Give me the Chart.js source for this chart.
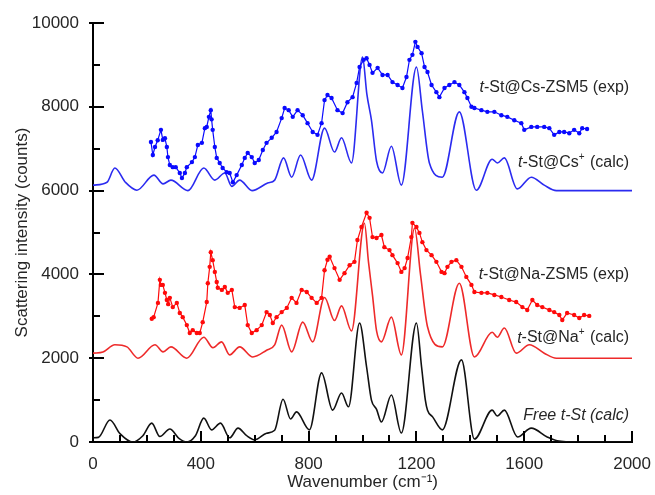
<!DOCTYPE html>
<html>
<head>
<meta charset="utf-8">
<script src="https://cdn.jsdelivr.net/npm/chart.js@4.4.1/dist/chart.umd.min.js"></script>
<style>
  html, body { margin: 0; padding: 0; background: #fff; }
  #wrap { width: 655px; height: 495px; }
</style>
</head>
<body>
<div id="wrap"><canvas id="chart" width="655" height="495"></canvas></div>
<script>
// Wavenumber (cm-1) / intensity (counts) readings per spectrum

// t-St@Cs-ZSM5 (exp)
const csExpX = [215, 222, 230, 240, 252, 259, 267, 274, 278, 285, 296, 307, 322, 330, 341, 348, 367, 378, 389, 404,
  415, 422, 430, 437, 440, 444, 452, 459, 470, 481, 496, 507, 519, 533, 552, 563, 574, 589, 600, 615,
  630, 644, 663, 681, 700, 711, 726, 741, 759, 778, 796, 815, 833, 848, 859, 870, 885, 907, 926, 944,
  963, 978, 989, 1004, 1015, 1026, 1037, 1056, 1074, 1093, 1111, 1130, 1148, 1163, 1174, 1185, 1196, 1204, 1219, 1230,
  1241, 1256, 1274, 1285, 1304, 1322, 1341, 1359, 1378, 1389, 1404, 1415, 1441, 1463, 1489, 1515, 1537, 1563, 1589, 1600,
  1626, 1648, 1674, 1693, 1711, 1730, 1748, 1767, 1785, 1804, 1815, 1833];
const csExpY = [7160, 6850, 7040, 7200, 7450, 7210, 7250, 7040, 6800, 6610, 6560, 6560, 6420, 6300, 6420, 6560, 6680, 6800, 7090, 7140,
  7490, 7520, 7760, 7920, 7700, 7450, 7040, 6780, 6660, 6540, 6440, 6420, 6200, 6370, 6610, 6780, 6900, 6800, 6660, 6730,
  6970, 7140, 7260, 7400, 7730, 7970, 7920, 7760, 7920, 7800, 7610, 7400, 7330, 7610, 8160, 8280, 8210, 7920, 7850, 8110,
  8230, 8570, 8950, 9120, 9160, 9000, 8810, 8930, 8760, 8760, 8590, 8520, 8450, 8710, 9120, 9240, 9550, 9430, 9280, 8950,
  8830, 8520, 8350, 8230, 8450, 8520, 8590, 8520, 8350, 8210, 8000, 7970, 7920, 7880, 7880, 7800, 7760, 7680, 7610, 7450,
  7520, 7520, 7520, 7490, 7330, 7400, 7400, 7370, 7450, 7370, 7490, 7470];

// t-St@Cs+ (calc)
const csCalcX = [0, 52, 81, 120, 163, 226, 260, 289, 352, 411, 452, 489, 515, 544, 590, 648, 674, 707, 737, 770, 811,
  859, 896, 922, 959, 1000, 1016, 1033, 1052, 1074, 1107, 1144, 1200, 1222, 1248, 1296, 1359, 1422,
  1481, 1500, 1526, 1574, 1626, 1674, 1719, 2000];
const csCalcY = [6130, 6200, 6540, 6200, 6010, 6370, 6160, 6250, 6000, 6540, 6250, 6420, 6100, 6250, 6000, 6180, 6250, 6780, 6320, 6850, 6250,
  7490, 6920, 7260, 6660, 9190, 8300, 7680, 6700, 6420, 7060, 6130, 8950, 7900, 6660, 6320, 7880, 6010,
  6750, 6660, 6780, 6040, 6320, 6130, 6000, 6000];

// t-St@Na-ZSM5 (exp)
const naExpX = [218, 225, 241, 248, 252, 259, 267, 274, 279, 285, 296, 311, 322, 333, 348, 359, 370, 385, 396, 407,
  422, 426, 433, 437, 444, 452, 459, 463, 478, 489, 500, 515, 526, 544, 563, 574, 589, 607, 626, 644,
  656, 667, 681, 700, 719, 737, 755, 774, 793, 811, 830, 848, 859, 870, 878, 896, 915, 933, 952, 970,
  981, 996, 1015, 1026, 1037, 1052, 1070, 1081, 1100, 1111, 1130, 1144, 1156, 1167, 1181, 1185, 1200, 1211, 1222, 1237,
  1256, 1274, 1293, 1304, 1315, 1330, 1348, 1367, 1385, 1404, 1415, 1441, 1463, 1489, 1515, 1544, 1570, 1593, 1611, 1630,
  1648, 1667, 1693, 1711, 1730, 1741, 1759, 1785, 1804, 1822, 1841];
const naExpY = [2940, 2980, 3320, 3870, 3750, 3750, 3560, 3390, 3290, 3440, 3220, 3320, 3080, 2980, 2790, 2600, 2670, 2600, 2600, 2860,
  3340, 3790, 4180, 4530, 4340, 4060, 3820, 3680, 3630, 3700, 3560, 3630, 3220, 3200, 3270, 2790, 2600, 2670, 2790, 3100,
  3030, 2840, 2980, 3100, 3200, 3440, 3320, 3630, 3580, 3440, 3320, 3440, 4100, 4350, 4420, 4150, 3870, 4030, 4220, 4300,
  4820, 5130, 5470, 5350, 4890, 4870, 4940, 4650, 4580, 4460, 4270, 4060, 4150, 4390, 4890, 5230, 5130, 4990, 4770, 4580,
  4460, 4300, 4060, 4030, 4180, 4300, 4340, 4180, 3940, 3750, 3580, 3560, 3560, 3510, 3460, 3390, 3340, 3220, 3150, 3390,
  3270, 3220, 3150, 3100, 3030, 2910, 3080, 3030, 2960, 3030, 3010];

// t-St@Na+ (calc)
const naCalcX = [0, 37, 81, 126, 167, 230, 260, 289, 348, 411, 445, 477, 507, 544, 593, 644, 674, 700, 737, 778, 815,
  859, 896, 922, 959, 1007, 1022, 1037, 1052, 1070, 1107, 1144, 1193, 1215, 1241, 1296, 1359, 1415,
  1481, 1500, 1526, 1570, 1619, 1674, 1719, 2000];
const naCalcY = [2120, 2150, 2320, 2270, 2000, 2320, 2150, 2270, 2000, 2500, 2250, 2390, 2080, 2270, 2030, 2190, 2320, 2790, 2150, 2860, 2390,
  3450, 2900, 3250, 2650, 5220, 4300, 3500, 2650, 2390, 2980, 2080, 5100, 4000, 2750, 2270, 3790, 2030,
  2620, 2500, 2720, 2120, 2320, 2120, 2000, 2000];

// Free t-St (calc)
const freeCalcX = [0, 20, 63, 100, 148, 185, 218, 248, 285, 320, 348, 380, 411, 440, 473, 507, 538, 570, 600, 644, 674,
  705, 733, 755, 803, 848, 889, 922, 948, 989, 1015, 1033, 1052, 1070, 1107, 1144, 1200, 1219, 1233, 1241, 1260, 1296,
  1367, 1415, 1481, 1500, 1526, 1575, 1626, 1685, 1722, 1800, 2000];
const freeCalcY = [100, 110, 525, 200, 0, 150, 450, 130, 310, 80, 0, 150, 570, 290, 450, 100, 330, 150, 50, 210, 280,
  1020, 550, 720, 290, 1650, 760, 1170, 840, 2840, 1790, 1000, 780, 477, 1120, 215, 2840, 1790, 1000, 760, 600, 290,
  1960, 70, 760, 620, 760, 120, 330, 120, 30, 0, 0];

const xTicks = [0, 400, 800, 1200, 1600, 2000];
const yTicks = [0, 2000, 4000, 6000, 8000, 10000];

function pts(xs, ys) {
  return xs.map((x, i) => ({ x: x, y: ys[i] }));
}

const FONT = '"Liberation Sans", Arial, Helvetica, sans-serif';
const TEXT = '#262626';

// series labels inside the plot, placed in data coordinates
const seriesLabels = [
  { x: 1989, y: 8450, parts: [['t', 'i'], ['-St@Cs-ZSM5 (exp)', 'n']] },
  { x: 1989, y: 6660, parts: [['t', 'i'], ['-St@Cs', 'n'], ['+', 's'], [' (calc)', 'n']] },
  { x: 1989, y: 3990, parts: [['t', 'i'], ['-St@Na-ZSM5 (exp)', 'n']] },
  { x: 1989, y: 2480, parts: [['t', 'i'], ['-St@Na', 'n'], ['+', 's'], [' (calc)', 'n']] },
  { x: 1989, y: 640, parts: [['Free t-St (calc)', 'i']] }
];

// inward tick marks + series labels
const overlayPlugin = {
  id: 'overlay',
  afterDraw(chart) {
    const ctx = chart.ctx;
    const xs = chart.scales.x, ys = chart.scales.y;
    const area = chart.chartArea;

    ctx.save();
    ctx.fillStyle = '#000';
    for (let v = 0; v <= 2000; v += 100) {
      const px = Math.round(xs.getPixelForValue(v));
      const len = xTicks.includes(v) ? 11 : 7;
      ctx.fillRect(px - 1, area.bottom - len, 2, len);
    }
    for (let v = 0; v <= 10000; v += 1000) {
      const py = Math.round(ys.getPixelForValue(v));
      const major = yTicks.includes(v);
      const x0 = area.left - (major ? 4 : 0);
      ctx.fillRect(x0, py - 1, area.left + (major ? 11 : 7) - x0, 2);
    }

    ctx.fillStyle = TEXT;
    ctx.textBaseline = 'middle';
    ctx.textAlign = 'left';
    const fontFor = k => k === 'i' ? 'italic 16px ' + FONT : (k === 's' ? '10px ' + FONT : '16px ' + FONT);
    seriesLabels.forEach(lab => {
      let total = 0;
      lab.parts.forEach(p => { ctx.font = fontFor(p[1]); total += ctx.measureText(p[0]).width + (p[1] === 's' ? 1 : 0); });
      let cx = xs.getPixelForValue(lab.x) - total;
      const cy = ys.getPixelForValue(lab.y);
      lab.parts.forEach(p => {
        ctx.font = fontFor(p[1]);
        ctx.fillText(p[0], cx, p[1] === 's' ? cy - 6 : cy);
        cx += ctx.measureText(p[0]).width + (p[1] === 's' ? 1 : 0);
      });
    });
    ctx.restore();
  }
};

const expStyle = (color) => ({
  borderColor: color,
  backgroundColor: color,
  borderWidth: 1.2,
  pointRadius: 2.2,
  pointBorderWidth: 0,
  pointBackgroundColor: color,
  tension: 0
});
const calcStyle = (color) => ({
  borderColor: color,
  borderWidth: 1.6,
  pointRadius: 0,
  cubicInterpolationMode: 'monotone'
});

new Chart(document.getElementById('chart'), {
  type: 'line',
  data: {
    datasets: [
      Object.assign({ label: 't-St@Cs-ZSM5 (exp)', data: pts(csExpX, csExpY) }, expStyle('#0a0aff')),
      Object.assign({ label: 't-St@Na-ZSM5 (exp)', data: pts(naExpX, naExpY) }, expStyle('#ff0a0a')),
      Object.assign({ label: 't-St@Cs+ (calc)', data: pts(csCalcX, csCalcY) }, calcStyle('#2b2bf0')),
      Object.assign({ label: 't-St@Na+ (calc)', data: pts(naCalcX, naCalcY) }, calcStyle('#ee2a2a')),
      Object.assign({ label: 'Free t-St (calc)', data: pts(freeCalcX, freeCalcY) }, calcStyle('#111111'))
    ]
  },
  options: {
    responsive: false,
    animation: false,
    devicePixelRatio: 1,
    layout: { padding: { left: 0, right: 22, top: 23, bottom: 0 } },
    plugins: { legend: { display: false }, tooltip: { enabled: false } },
    scales: {
      x: {
        type: 'linear',
        min: 0, max: 2000,
        afterBuildTicks: s => { s.ticks = xTicks.map(v => ({ value: v })); },
        afterFit: s => { s.height = 53; },
        ticks: { font: { family: FONT, size: 17 }, color: TEXT, padding: 4, maxRotation: 0, autoSkip: false,
          callback: v => String(v) },
        grid: { display: false },
        border: { display: true, color: '#000', width: 2 },
        title: { display: true, text: 'Wavenumber (cm\u207B\u00B9)', font: { family: FONT, size: 17 }, color: TEXT, padding: 2 }
      },
      y: {
        type: 'linear',
        min: 0, max: 10000,
        afterBuildTicks: s => { s.ticks = yTicks.map(v => ({ value: v })); },
        afterFit: s => { s.width = 93; },
        ticks: { font: { family: FONT, size: 17 }, color: TEXT, padding: 6, callback: v => String(v) },
        grid: { display: false },
        border: { display: true, color: '#000', width: 2 },
        title: { display: true, text: 'Scattering intensity (counts)', font: { family: FONT, size: 17 }, color: TEXT, padding: 12 }
      }
    }
  },
  plugins: [overlayPlugin]
});
</script>
</body>
</html>
